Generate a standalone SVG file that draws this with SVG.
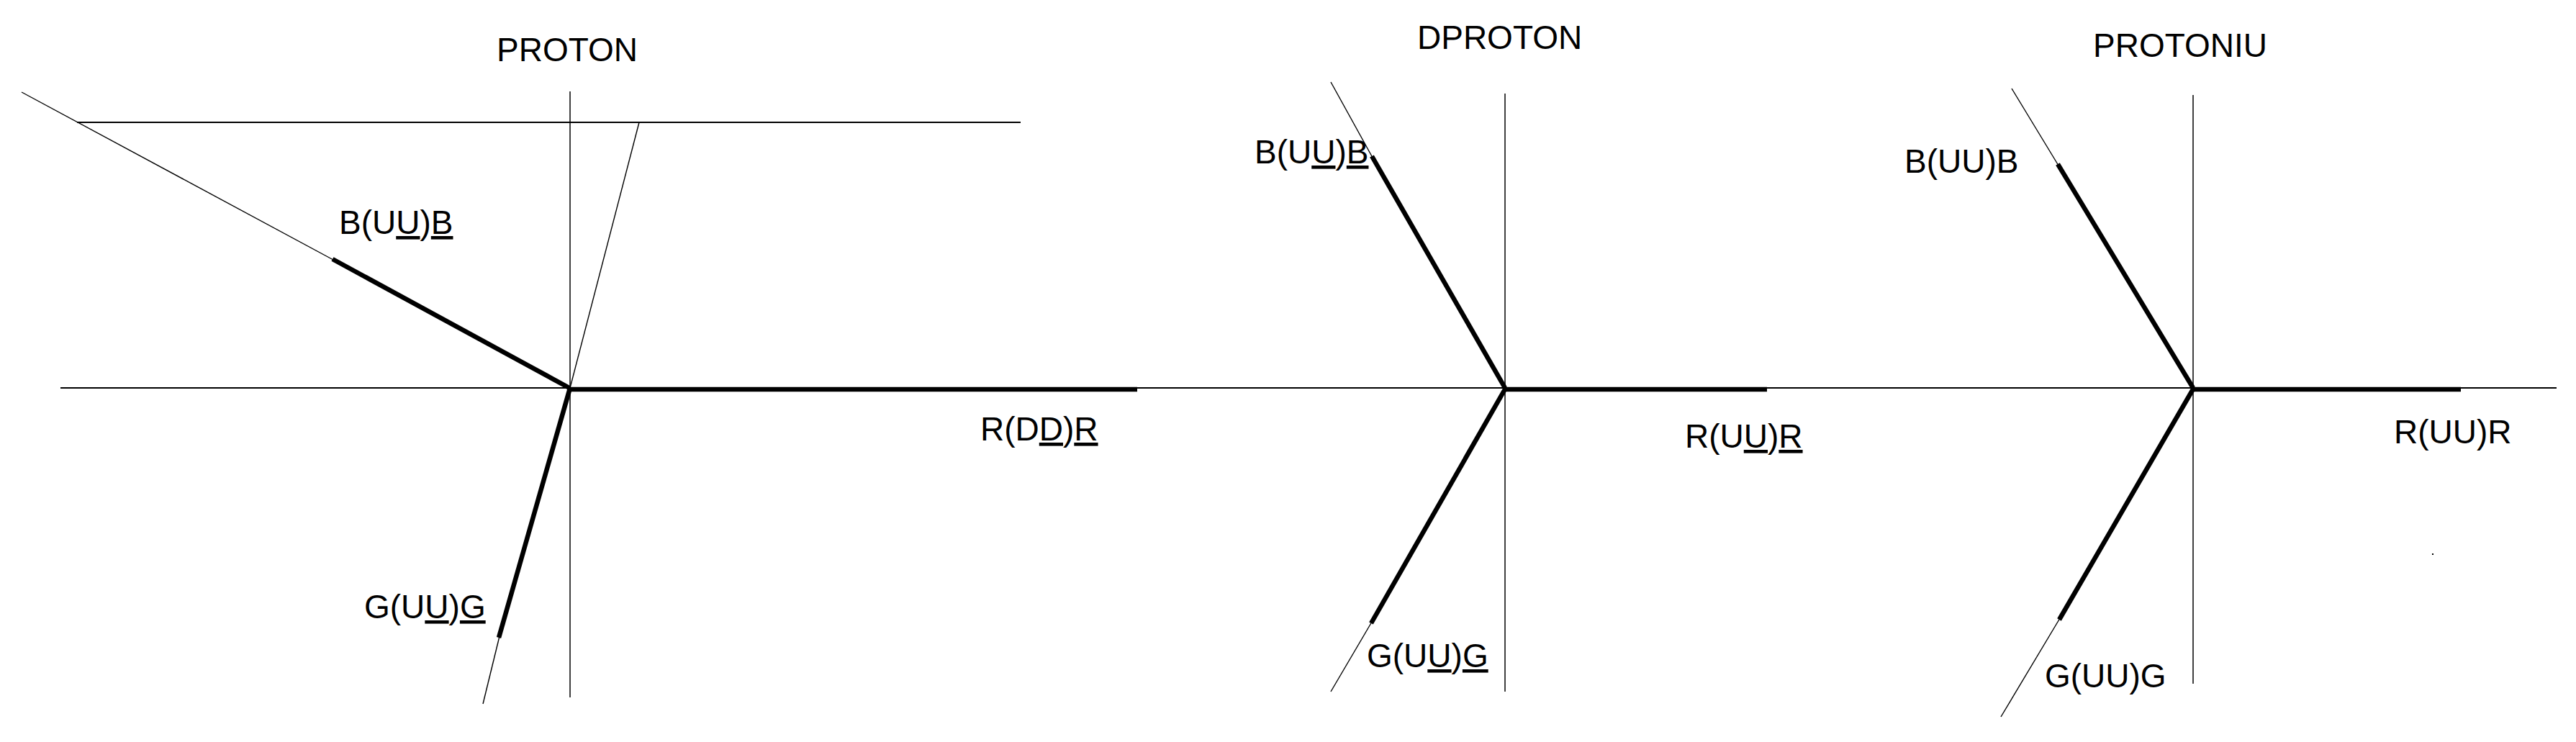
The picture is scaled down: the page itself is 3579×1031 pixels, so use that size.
<svg xmlns="http://www.w3.org/2000/svg" width="3579" height="1031" viewBox="0 0 3579 1031">
<style>
text{font-family:"Liberation Sans",Arial,sans-serif;font-size:46px;fill:#000}
.u{text-decoration:underline}
line{stroke:#000;stroke-linecap:butt}
.axis{stroke-width:2}
.vert{stroke-width:1.5}
.thin{stroke-width:1.4}
.thick{stroke-width:6.5}
</style>
<rect width="3579" height="1031" fill="#fff"/>
<g id="axis-shared">
<line class="axis" x1="84" y1="539" x2="3552" y2="539"/>
</g>
<g id="proton">
<text id="proton-title" x="690" y="85">PROTON</text>
<g id="proton-lines">
<line class="vert" x1="792" y1="127" x2="792" y2="969"/>
<line class="axis" x1="107" y1="170" x2="1418" y2="170"/>
<line class="thin" x1="30" y1="128" x2="463" y2="361"/>
<line class="thick" x1="462" y1="360" x2="791" y2="539"/>
<line class="thin" x1="888" y1="170" x2="792" y2="539"/>
<line class="thick" x1="789" y1="541" x2="1580" y2="541"/>
<line class="thick" x1="792" y1="539" x2="693" y2="886"/>
<line class="thin" x1="694" y1="884" x2="671" y2="978"/>
</g>
<text id="proton-b" x="471" y="325">B(U<tspan class="u">U</tspan>)<tspan class="u">B</tspan></text>
<text id="proton-r" x="1362" y="612">R(D<tspan class="u">D</tspan>)<tspan class="u">R</tspan></text>
<text id="proton-g" x="506" y="859">G(U<tspan class="u">U</tspan>)<tspan class="u">G</tspan></text>
</g>
<g id="dproton">
<text id="dproton-title" x="1969" y="68">DPROTON</text>
<g id="dproton-lines">
<line class="vert" x1="2091" y1="130" x2="2091" y2="961"/>
<line class="thin" x1="1849" y1="114" x2="1907" y2="219"/>
<line class="thick" x1="1906" y1="217" x2="2091" y2="539"/>
<line class="thick" x1="2089" y1="541" x2="2455" y2="541"/>
<line class="thick" x1="2092" y1="539" x2="1905" y2="866"/>
<line class="thin" x1="1906" y1="864" x2="1849" y2="961"/>
</g>
<text id="dproton-b" x="1743" y="227">B(U<tspan class="u">U</tspan>)<tspan class="u">B</tspan></text>
<text id="dproton-r" x="2341" y="622">R(U<tspan class="u">U</tspan>)<tspan class="u">R</tspan></text>
<text id="dproton-g" x="1899" y="927">G(U<tspan class="u">U</tspan>)<tspan class="u">G</tspan></text>
</g>
<g id="protoniu">
<text id="protoniu-title" x="2908" y="79">PROTONIU</text>
<g id="protoniu-lines">
<line class="vert" x1="3047" y1="132" x2="3047" y2="950"/>
<line class="thin" x1="2795" y1="123" x2="2860" y2="230"/>
<line class="thick" x1="2859" y1="228" x2="3047" y2="539"/>
<line class="thick" x1="3045" y1="541" x2="3419" y2="541"/>
<line class="thick" x1="3048" y1="539" x2="2861" y2="861"/>
<line class="thin" x1="2862" y1="859" x2="2780" y2="996"/>
</g>
<text id="protoniu-b" x="2646" y="240">B(UU)B</text>
<text id="protoniu-r" x="3326" y="616">R(UU)R</text>
<text id="protoniu-g" x="2841" y="955">G(UU)G</text>
<rect id="protoniu-dot" x="3379" y="769" width="2" height="2" fill="#000"/>
</g>
</svg>
